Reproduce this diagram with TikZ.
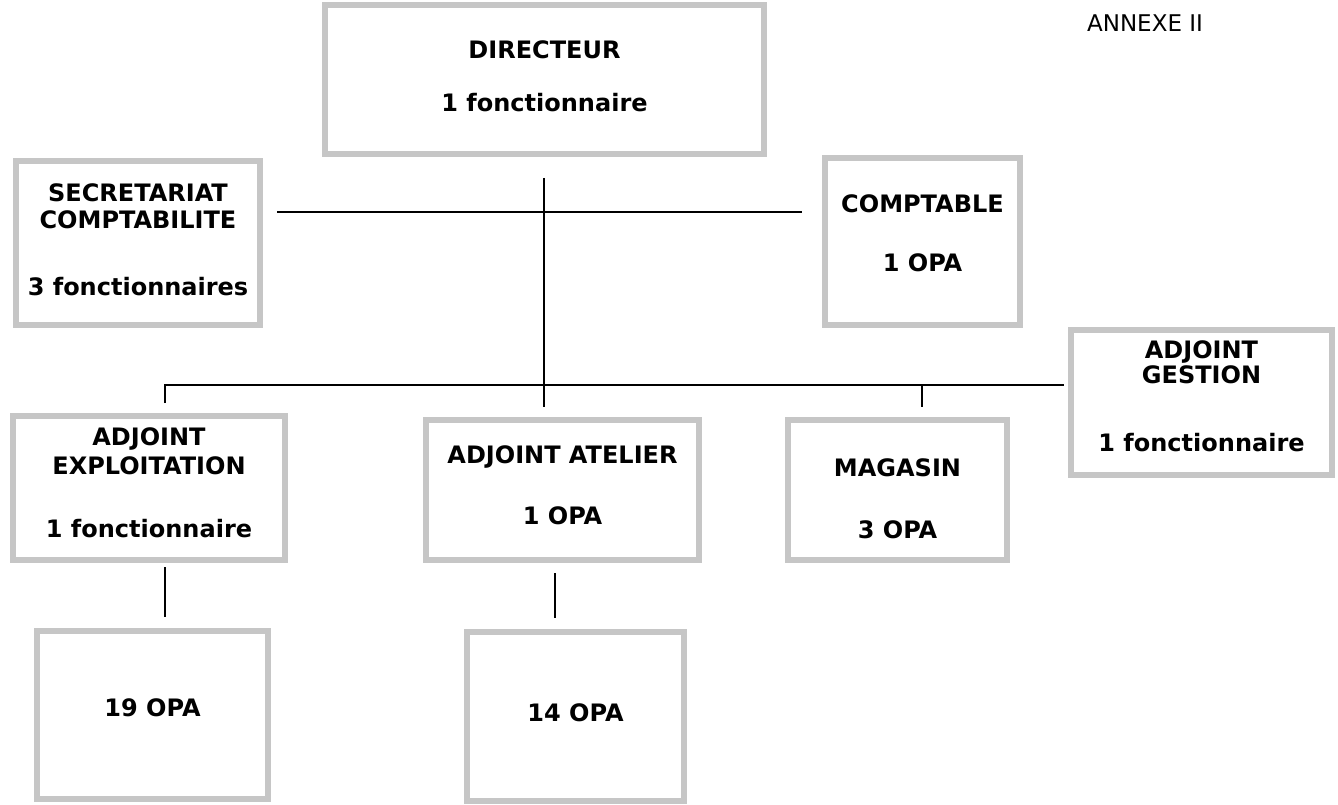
\documentclass[tikz,border=0pt]{standalone}
\usepackage{fontspec}
\setmainfont{DejaVu Sans}
\begin{document}
\begin{tikzpicture}[x=1pt,y=-1pt,
  box/.style={draw=gray!45, line width=6pt, inner sep=0pt, fill=white},
  lbl/.style={font=\fontsize{24}{28}\selectfont\bfseries, inner sep=0pt, text height=0.73em, text depth=0pt},
  conn/.style={line width=1.5pt, draw=black}]
\useasboundingbox (0,0) rectangle (1338,805);
% boxes
\node[box, minimum width=439, minimum height=149] (dir) at (544.5,79.5) {};
\node[box, minimum width=244, minimum height=164] (sec) at (138,243) {};
\node[box, minimum width=195, minimum height=167] (cpt) at (922.5,241.5) {};
\node[box, minimum width=261, minimum height=145] (ges) at (1201.5,402.5) {};
\node[box, minimum width=272, minimum height=144] (exp) at (149,488) {};
\node[box, minimum width=273, minimum height=140] (ate) at (562.5,490) {};
\node[box, minimum width=219, minimum height=140] (mag) at (897.5,490) {};
\node[box, minimum width=231, minimum height=168] (opa19) at (152.5,715) {};
\node[box, minimum width=217, minimum height=169] (opa14) at (575.5,716.5) {};
% labels
\node[lbl] (dirA) at (544.5,55) {DIRECTEUR};
\node[lbl] (dirB) at (544.5,108) {1 fonctionnaire};
\node[lbl] (secA) at (138,198) {SECRETARIAT};
\node[lbl] (secB) at (138,225) {COMPTABILITE};
\node[lbl] (secC) at (138,292) {3 fonctionnaires};
\node[lbl] (cptA) at (922.5,209) {COMPTABLE};
\node[lbl] (cptB) at (922.5,268) {1 OPA};
\node[lbl] (gesA) at (1201.5,355) {ADJOINT};
\node[lbl] (gesB) at (1201.5,380) {GESTION};
\node[lbl] (gesC) at (1201.5,448) {1 fonctionnaire};
\node[lbl] (expA) at (149,442) {ADJOINT};
\node[lbl] (expB) at (149,471) {EXPLOITATION};
\node[lbl] (expC) at (149,534) {1 fonctionnaire};
\node[lbl] (ateA) at (562.5,460) {ADJOINT ATELIER};
\node[lbl] (ateB) at (562.5,521) {1 OPA};
\node[lbl] (magA) at (897.5,473) {MAGASIN};
\node[lbl] (magB) at (897.5,535) {3 OPA};
\node[lbl] (o19) at (152.5,713) {19 OPA};
\node[lbl] (o14) at (575.5,718) {14 OPA};
\node[font=\fontsize{23}{27}\selectfont, inner sep=0pt, text height=0.73em, text depth=0pt] (annexe) at (1145,28) {ANNEXE II};
% connector points
\coordinate (v0) at (544,178);
\coordinate (v1) at (544,407);
\coordinate (hL) at (277,212);
\coordinate (hR) at (802,212);
\coordinate (h2L) at (165,385);
\coordinate (h2R) at (1064,385);
\coordinate (dL) at (165,403);
\coordinate (mT) at (922,385);
\coordinate (mB) at (922,407);
\coordinate (e1) at (165,567);
\coordinate (e2) at (165,617);
\coordinate (a1) at (555,573);
\coordinate (a2) at (555,618);
\draw[conn] (v0) -- (v1);
\draw[conn] (hL) -- (hR);
\draw[conn] (dL) -- (h2L) -- (h2R);
\draw[conn] (mT) -- (mB);
\draw[conn] (e1) -- (e2);
\draw[conn] (a1) -- (a2);
\end{tikzpicture}
\end{document}
